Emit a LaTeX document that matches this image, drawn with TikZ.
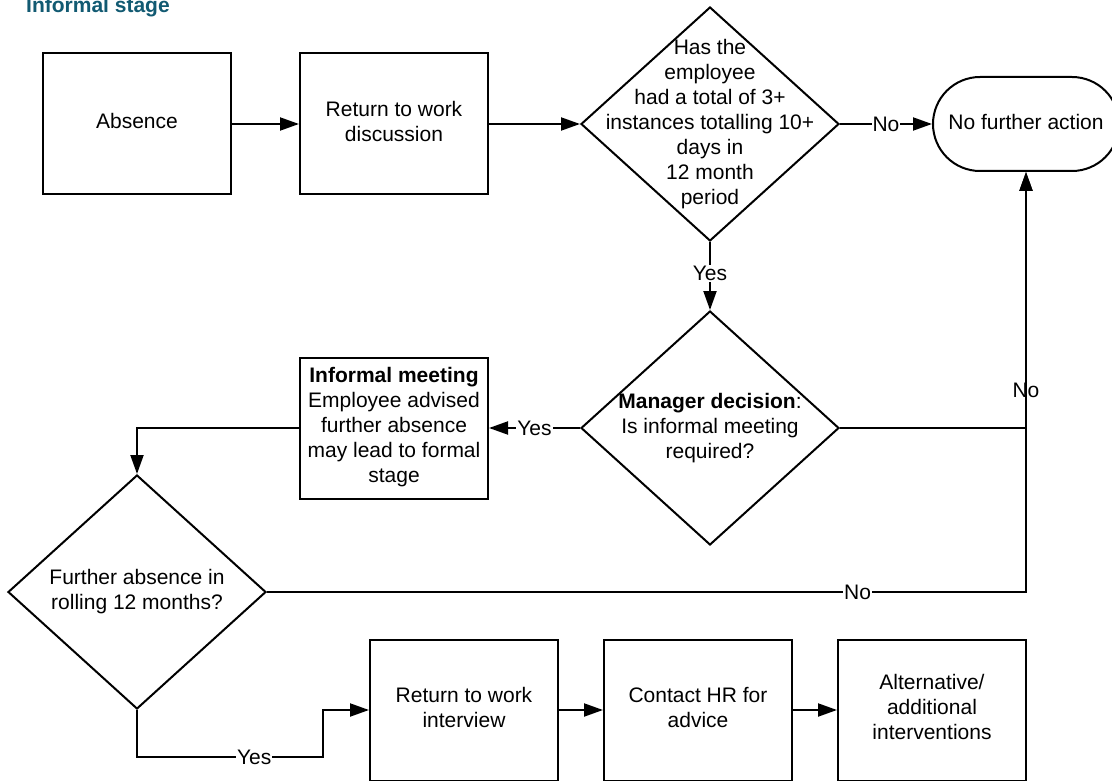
\documentclass[tikz,border=0pt]{standalone}
\usepackage{fontspec}
\setmainfont{Liberation Sans}
\usetikzlibrary{shapes.geometric,arrows.meta}
\definecolor{titlecol}{RGB}{18,90,114}
\begin{document}
\begin{tikzpicture}[x=1pt,y=-1pt,
  every node/.style={font=\fontsize{21}{25}\selectfont},
  box/.style={draw,line width=2pt,minimum width=188pt,minimum height=141pt,inner sep=0pt,align=center,text depth=6pt},
  dia/.style={draw,line width=2pt,shape=diamond,minimum width=258pt,minimum height=234pt,inner sep=0pt,aspect=1.1},
  txt/.style={align=center,inner sep=0pt},
  arr/.style={line width=2pt,-{Triangle[length=19pt,width=13pt]}},
  conn/.style={line width=2pt},
  lbl/.style={fill=white,inner sep=1pt}]
\useasboundingbox (0,0) rectangle (1112,781);

\node[anchor=base west,inner sep=0pt,text=titlecol,font=\fontsize{21}{25}\selectfont\bfseries] (title) at (26,13) {Informal stage};

\node[box] (abs) at (137,124) {Absence};
\node[box] (rtwd) at (394,124) {Return to work\\discussion};
\node[dia] (d1) at (710,124) {};
\node[txt] (d1t) at (d1.center) {Has the\\employee\\had a total of 3+\\instances totalling 10+\\days in\\12 month\\period};
\node[draw,line width=2pt,rounded corners=47pt,minimum width=186pt,minimum height=94pt,inner sep=0pt,text depth=5pt] (nfa) at (1026,124) {No further action};

\node[dia] (d2) at (710,428) {};
\node[txt] (d2t) at (d2.center) {\textbf{Manager decision}:\\Is informal meeting\\required?};
\node[box] (im) at (394,428) {\textbf{Informal meeting}\\Employee advised\\further absence\\may lead to formal\\stage};

\node[dia] (d3) at (137,592) {};
\node[txt] (d3t) at (d3.center) {Further absence in\\rolling 12 months?};

\node[box] (rtwi) at (464,710) {Return to work\\interview};
\node[box] (hr) at (698,710) {Contact HR for\\advice};
\node[box] (alt) at (932,710) {Alternative/\\additional\\interventions};

\coordinate (yb) at (323,757);

\draw[arr] (abs) -- (rtwd);
\draw[arr] (rtwd) -- (d1);
\draw[arr] (d1.east) -- node[lbl,pos=0.5]{No} (nfa.west);
\draw[arr] (d1.south) -- node[lbl,pos=0.46]{Yes} (d2.north);
\draw[arr] (d2.west) -- node[lbl,pos=0.5]{Yes} (im.east);
\draw[arr] (d2.east) -| node[lbl,pos=0.574]{No} (nfa.south);
\draw[arr] (im.west) -| (d3.north);
\draw[arr] (d3.east) -| node[lbl,pos=0.389]{No} (nfa.south);
\draw[arr] (d3.south) |- node[lbl,pos=0.815]{Yes} (yb) |- (rtwi.west);
\draw[arr] (rtwi) -- (hr);
\draw[arr] (hr) -- (alt);
\end{tikzpicture}
\end{document}
